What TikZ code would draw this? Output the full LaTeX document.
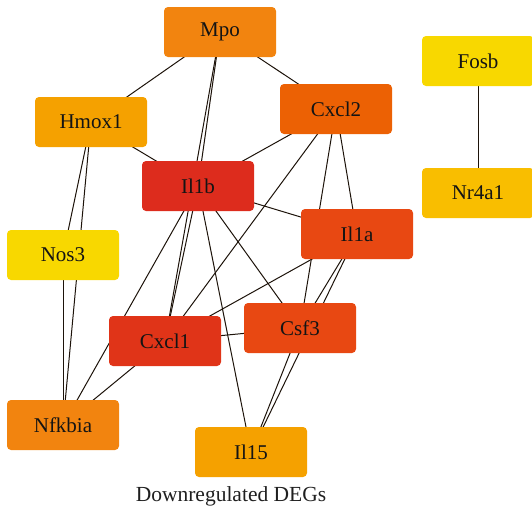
\documentclass[tikz,border=0pt]{standalone}
\usepackage{fontspec}
\setmainfont{Liberation Serif}
\begin{document}
\begin{tikzpicture}[x=1pt,y=-1pt,
  gene/.style={rounded corners=4pt,minimum width=112pt,minimum height=50pt,inner sep=0pt,font=\fontsize{21}{25}\selectfont,text=black!92},
  link/.style={draw=black!85!brown,line width=1pt}]
\useasboundingbox (0,0) rectangle (532,512);
\definecolor{cMpo}{HTML}{F2840F}
\definecolor{cHmox}{HTML}{F5A100}
\definecolor{cCxcltwo}{HTML}{EC6104}
\definecolor{cYel}{HTML}{F8D800}
\definecolor{cNr}{HTML}{F9BE00}
\definecolor{cIlb}{HTML}{DD2C1D}
\definecolor{cIla}{HTML}{E84812}
\definecolor{cCxclone}{HTML}{E03418}
\definecolor{cNfk}{HTML}{F2840F}
\coordinate (pMpo) at (220,32);
\coordinate (pHmox) at (91,122);
\coordinate (pCxcl2) at (336,109);
\coordinate (pFosb) at (478,61);
\coordinate (pNr) at (478,193);
\coordinate (pIl1b) at (198,186);
\coordinate (pIl1a) at (357,234);
\coordinate (pNos) at (63,255);
\coordinate (pCxcl1) at (165,341);
\coordinate (pCsf) at (300,328);
\coordinate (pNfk) at (63,425);
\coordinate (pIl15) at (251,452);
% edges (center to center, under nodes)
\foreach \a/\b in {pMpo/pHmox,pMpo/pCxcl2,pMpo/pIl1b,pMpo/pCxcl1,
  pHmox/pNos,pHmox/pNfk,pHmox/pIl1b,pNos/pNfk,
  pIl1b/pCxcl2,pIl1b/pIl1a,pIl1b/pCsf,pIl1b/pIl15,pIl1b/pCxcl1,pIl1b/pNfk,
  pCxcl2/pCxcl1,pCxcl2/pIl1a,pCxcl2/pCsf,
  pIl1a/pCsf,pIl1a/pIl15,pIl1a/pCxcl1,
  pCxcl1/pCsf,pCxcl1/pNfk,pCsf/pIl15,pFosb/pNr}
  \draw[link] (\a) -- (\b);
\node[gene,fill=cMpo] (Mpo) at (pMpo) {Mpo};
\node[gene,fill=cHmox] (Hmox1) at (pHmox) {Hmox1};
\node[gene,fill=cCxcltwo] (Cxcl2) at (pCxcl2) {Cxcl2};
\node[gene,fill=cYel] (Fosb) at (pFosb) {Fosb};
\node[gene,fill=cNr] (Nr4a1) at (pNr) {Nr4a1};
\node[gene,fill=cIlb] (Il1b) at (pIl1b) {Il1b};
\node[gene,fill=cIla] (Il1a) at (pIl1a) {Il1a};
\node[gene,fill=cYel] (Nos3) at (pNos) {Nos3};
\node[gene,fill=cCxclone] (Cxcl1) at (pCxcl1) {Cxcl1};
\node[gene,fill=cIla] (Csf3) at (pCsf) {Csf3};
\node[gene,fill=cNfk] (Nfkbia) at (pNfk) {Nfkbia};
\node[gene,fill=cHmox] (Il15) at (pIl15) {Il15};
\node[font=\fontsize{21.5}{25}\selectfont,text=black!88] (cap) at (231,496) {Downregulated DEGs};
\end{tikzpicture}
\end{document}
